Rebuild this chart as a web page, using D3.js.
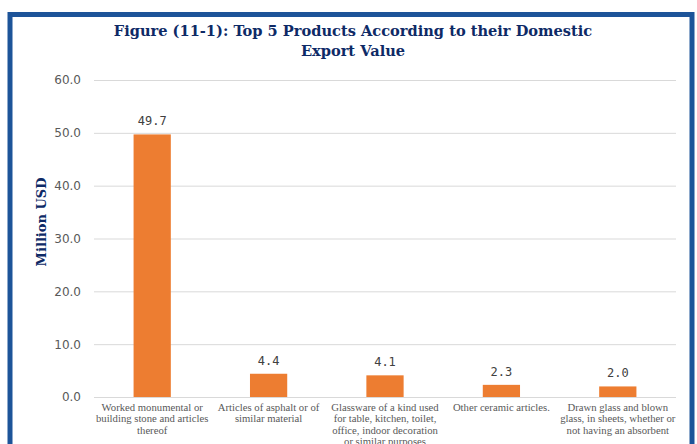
<!DOCTYPE html>
<html>
<head>
<meta charset="utf-8">
<script src="https://cdn.jsdelivr.net/npm/d3@7"></script>
<style>
  html, body { margin: 0; padding: 0; background: #fff; }
  svg { display: block; }
</style>
</head>
<body>
<svg id="chart" width="697" height="444"></svg>
<script>
// Top 5 products by domestic export value (million USD)
const categories = [
  ["Worked monumental or", "building stone and articles", "thereof"],
  ["Articles of asphalt or of", "similar material"],
  ["Glassware of a kind used", "for table, kitchen, toilet,", "office, indoor decoration", "or similar purposes"],
  ["Other ceramic articles."],
  ["Drawn glass and blown", "glass, in sheets, whether or", "not having an absorbent"]
];
const values = [49.7, 4.4, 4.1, 2.3, 2.0];
const yTicks = [0, 10, 20, 30, 40, 50, 60];
const titleLines = ["Figure (11-1): Top 5 Products According to their Domestic", "Export Value"];
const yTitle = "Million USD";

const svg = d3.select("#chart");
const plot = { left: 94, right: 676, top: 80, bottom: 397 };

// frame
svg.append("rect")
  .attr("x", 10).attr("y", 14.5)
  .attr("width", 682).attr("height", 440)
  .attr("fill", "#fff")
  .attr("stroke", "#1d5499").attr("stroke-width", 5);

// title
svg.append("text")
  .attr("text-anchor", "middle")
  .attr("font-family", "'DejaVu Serif', serif")
  .attr("font-weight", "bold")
  .attr("font-size", 14.6)
  .attr("fill", "#0e2a66")
  .selectAll("tspan").data(titleLines).join("tspan")
  .attr("x", 353).attr("y", (d, i) => 36 + i * 20)
  .text(d => d);

const idx = categories.map((d, i) => i);
const x = d3.scaleBand().domain(idx).range([plot.left, plot.right]).paddingInner(0.68).paddingOuter(0.34);
const y = d3.scaleLinear().domain([0, 60]).range([plot.bottom, plot.top]);

// gridlines
svg.append("g")
  .selectAll("line").data(yTicks).join("line")
  .attr("x1", plot.left).attr("x2", plot.right)
  .attr("y1", d => y(d) + 0.5).attr("y2", d => y(d) + 0.5)
  .attr("stroke", "#d9d9d9").attr("stroke-width", 1);

// y axis labels
const yAxis = d3.axisLeft(y).tickValues(yTicks).tickFormat(d3.format(".1f")).tickSize(0).tickPadding(13);
const ga = svg.append("g").attr("transform", `translate(${plot.left},0)`).call(yAxis);
ga.select(".domain").remove();
ga.selectAll("text")
  .attr("font-family", "'DejaVu Sans', sans-serif")
  .attr("font-size", 12)
  .attr("fill", "#595959");

// y title
svg.append("text")
  .attr("transform", "translate(46,222) rotate(-90)")
  .attr("text-anchor", "middle")
  .attr("font-family", "'DejaVu Serif', serif")
  .attr("font-weight", "bold")
  .attr("font-size", 13)
  .attr("fill", "#0e2a66")
  .text(yTitle);

// bars
svg.append("g")
  .selectAll("rect").data(values).join("rect")
  .attr("x", (d, i) => x(i))
  .attr("width", x.bandwidth())
  .attr("y", d => y(d))
  .attr("height", d => y(0) - y(d))
  .attr("fill", "#ed7d31");

// value labels
svg.append("g")
  .selectAll("text").data(values).join("text")
  .attr("x", (d, i) => x(i) + x.bandwidth() / 2)
  .attr("y", d => y(d) - 9)
  .attr("text-anchor", "middle")
  .attr("font-family", "'DejaVu Sans Mono', monospace")
  .attr("font-size", 12)
  .attr("fill", "#404040")
  .text(d => d.toFixed(1));

// category labels
svg.append("g")
  .selectAll("text").data(categories).join("text")
  .attr("text-anchor", "middle")
  .attr("font-family", "'Liberation Serif', serif")
  .attr("font-size", 10.7)
  .attr("fill", "#595959")
  .each(function(lines, i) {
    d3.select(this).selectAll("tspan").data(lines).join("tspan")
      .attr("x", x(i) + x.bandwidth() / 2)
      .attr("y", (d, j) => 411 + j * 11.3)
      .text(d => d);
  });
</script>
</body>
</html>
